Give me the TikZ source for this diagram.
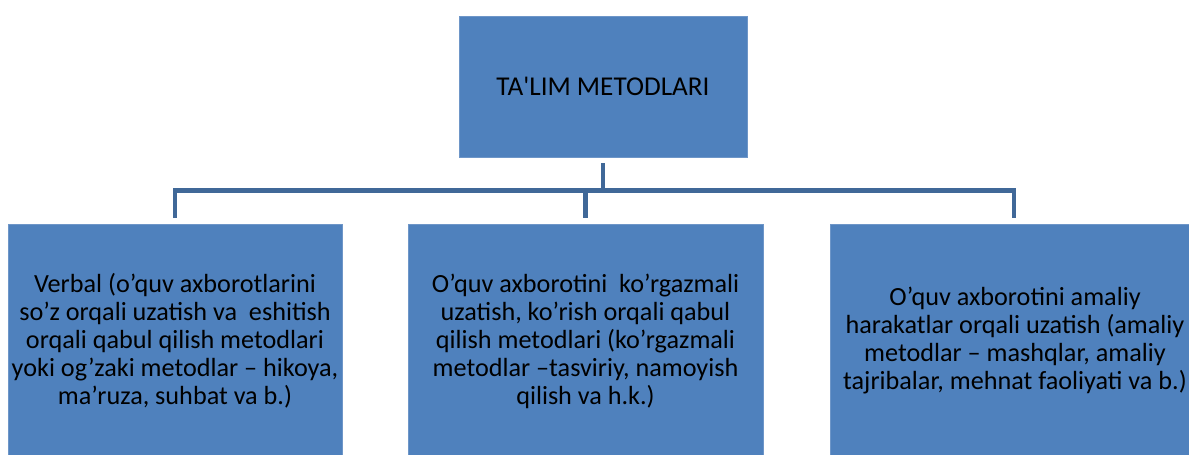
\documentclass[tikz,border=0pt]{standalone}
\usepackage{fontspec}
\setmainfont{Carlito}
\newfontfamily\titlefont{Carlito}
\definecolor{boxblue}{RGB}{79,129,189}
\definecolor{boxedge}{RGB}{110,150,200}
\definecolor{lineblue}{RGB}{64,104,152}
\begin{document}
\begin{tikzpicture}[x=1pt,y=-1pt,
  box/.style={rectangle, fill=boxblue, draw=boxedge, line width=0.8pt, inner sep=0pt, align=center, text=black, font=\fontsize{26.2}{28}\selectfont},
  conn/.style={draw=lineblue, line width=4.5pt, line join=miter}]
\useasboundingbox (0,0) rectangle (1189,455);
\begin{scope}
\clip (0,0) rectangle (1189,455);
\node[box, minimum width=288pt, minimum height=141pt, font=\titlefont\fontsize{27.2}{30}\selectfont] (top) at (603,86.5) {TA'LIM METODLARI};
\node[box, minimum width=334pt, minimum height=234pt] (left) at (175,341) {Verbal (o’quv axborotlarini\\so’z orqali uzatish va~ eshitish\\orqali qabul qilish metodlari\\yoki og’zaki metodlar – hikoya,\\ma’ruza, suhbat va b.)};
\node[box, minimum width=355pt, minimum height=234pt] (mid) at (585.5,341) {O’quv axborotini~ ko’rgazmali\\uzatish, ko’rish orqali qabul\\qilish metodlari (ko’rgazmali\\metodlar –tasviriy, namoyish\\qilish va h.k.)};
\node[box, minimum width=370pt, minimum height=234pt] (right) at (1015,341) {O’quv axborotini amaliy\\harakatlar orqali uzatish (amaliy\\metodlar – mashqlar, amaliy\\tajribalar, mehnat faoliyati va b.)};
\end{scope}
\coordinate (bus) at (603,190.5);
\coordinate (dl) at (175,218);
\coordinate (dr) at (1014,218);
\coordinate (jl) at (175,190.5);
\coordinate (jr) at (1014,190.5);
\coordinate (dm) at (585.5,218);
\coordinate (jm) at (585.5,190.5);
\draw[conn] (top.south) ++(0,6) -- (bus);
\draw[conn] (dl) -- (jl) -- (jr) -- (dr);
\draw[conn] (jm) -- (dm);
\end{tikzpicture}
\end{document}
